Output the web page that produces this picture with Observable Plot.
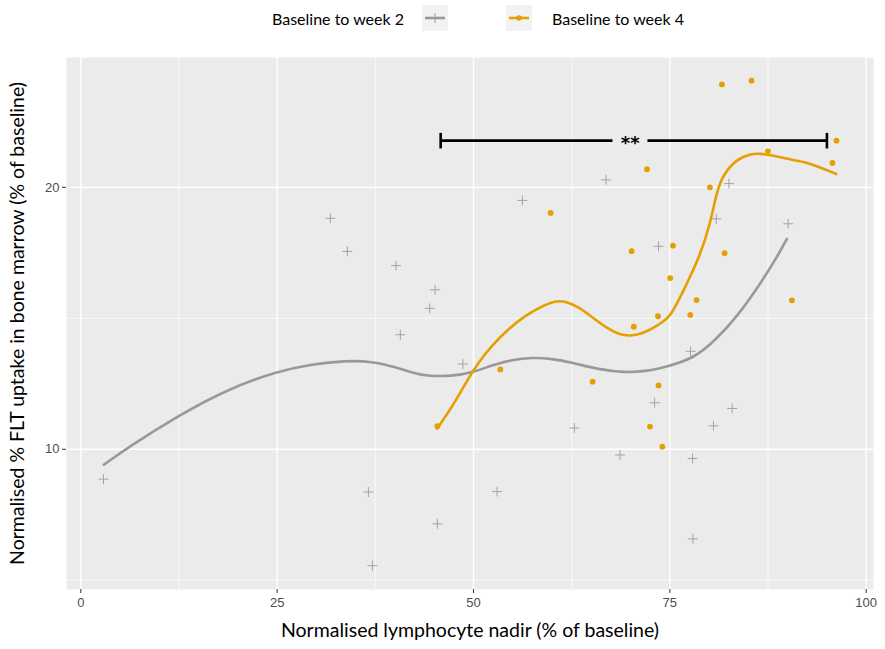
<!DOCTYPE html>
<html>
<head>
<meta charset="utf-8">
<script src="https://cdn.jsdelivr.net/npm/d3@7"></script>
<script src="https://cdn.jsdelivr.net/npm/@observablehq/plot@0.6"></script>
<style>
  html, body { margin: 0; padding: 0; background: #ffffff; }
  #wrap { width: 885px; }
  #legend { position: relative; width: 885px; height: 40px; font-family: Lato, "Open Sans", sans-serif; font-size: 16px; color: #000; }
  #legend .lab { position: absolute; top: 8px; line-height: 22px; white-space: nowrap; }
  #legend svg { position: absolute; top: 5px; }
</style>
</head>
<body>
<div id="wrap">
  <div id="legend"></div>
  <div id="chart"></div>
</div>
<script>
// ---- Data ----
const seriesNames = ["Baseline to week 2", "Baseline to week 4"];
const seriesColors = ["#A3A3A3", "#E69F00"];
const curveColors = ["#999999", "#E69F00"];

const week2X = [2.89, 31.78, 33.94, 40.14, 40.69, 45.11, 44.42, 48.65, 36.62, 45.40, 37.13, 62.84, 68.65, 73.06, 77.64, 77.89, 80.56, 82.94, 77.94, 53.00, 56.22, 66.87, 82.52, 80.91, 73.56, 90.07];
const week2Y = [9.24, 18.43, 16.88, 16.26, 13.54, 15.25, 14.52, 12.53, 8.93, 8.21, 7.35, 10.58, 9.85, 11.31, 12.96, 9.76, 10.64, 11.14, 7.89, 8.94, 19.32, 20.40, 20.20, 18.40, 17.11, 18.16];

const week4X = [81.63, 85.40, 96.22, 87.49, 95.71, 72.09, 80.11, 59.82, 70.13, 75.40, 81.97, 75.05, 78.40, 90.54, 73.49, 77.60, 70.41, 53.42, 65.17, 73.56, 72.47, 74.04, 45.40];
const week4Y = [26.26, 26.52, 22.63, 22.00, 21.33, 20.98, 20.00, 18.69, 16.89, 17.14, 16.80, 15.73, 14.84, 14.83, 14.22, 14.27, 13.83, 12.35, 11.96, 11.84, 10.62, 10.07, 10.63];

// smoothed (loess) curves
const smooth2X = [2.93, 6.11, 12.47, 18.84, 25.0, 29.45, 33.69, 37.09, 40.05, 42.18, 43.87, 47.27, 49.82, 52.36, 54.91, 57.45, 60.0, 62.54, 65.93, 69.33, 71.87, 74.42, 78.02, 80.78, 83.54, 86.51, 88.63, 89.91];
const smooth2Y = [9.60, 10.06, 10.94, 11.74, 12.29, 12.53, 12.64, 12.62, 12.43, 12.25, 12.14, 12.13, 12.25, 12.49, 12.68, 12.75, 12.71, 12.58, 12.35, 12.25, 12.29, 12.43, 12.71, 13.34, 14.19, 15.49, 16.62, 17.45];

const smooth4X = [45.36, 46.84, 48.11, 49.38, 50.66, 52.36, 54.47, 56.60, 58.72, 60.42, 61.69, 63.38, 65.09, 66.78, 68.47, 69.96, 71.45, 73.14, 74.0, 75.05, 76.75, 78.87, 80.14, 81.0, 81.84, 83.54, 85.24, 86.51, 88.2, 89.91, 92.02, 94.14, 96.18];
const smooth4Y = [10.56, 11.04, 11.53, 12.07, 12.60, 13.16, 13.76, 14.25, 14.60, 14.81, 14.80, 14.57, 14.19, 13.82, 13.55, 13.49, 13.58, 13.82, 14.00, 14.19, 15.22, 16.70, 18.16, 19.83, 20.72, 21.56, 21.85, 21.88, 21.75, 21.56, 21.41, 21.09, 20.72];

// significance bracket
const bracketX = [45.82, 95.0];
const bracketGap = [67.76, 72.21];
const bracketY = 22.63;
const bracketCapY = [22.14, 23.07];
const bracketLabel = "**";
const bracketLabelX = 69.96;

// axes
const xTicks = [0, 25, 50, 75, 100];
const xMinor = [12.5, 37.5, 62.5, 87.5];
const yTicks = [10, 20];
const yMinor = [7.071, 14.142];
const xDomain = [-1.82, 100.93];
const yDomain = [6.90, 28.2];
const xTitle = "Normalised lymphocyte nadir (% of baseline)";
const yTitle = "Normalised % FLT uptake in bone marrow (% of baseline)";

// ---- tables ----
const zip = (xs, ys) => xs.map((x, i) => ({x, y: ys[i]}));
const pts2 = zip(week2X, week2Y);
const pts4 = zip(week4X, week4Y);
const sm2 = zip(smooth2X, smooth2Y);
const sm4 = zip(smooth4X, smooth4Y);
const bracketSegs = [
  {x1: bracketX[0], x2: bracketGap[0], y: bracketY},
  {x1: bracketGap[1], x2: bracketX[1], y: bracketY}
];
const bracketCaps = bracketX.map(x => ({x, y1: bracketCapY[0], y2: bracketCapY[1]}));

const titleFont = "Lato, 'Open Sans', sans-serif";
const tickFont = "'Liberation Sans', Arial, sans-serif";

const chart = Plot.plot({
  width: 885,
  height: 609,
  marginTop: 17,
  marginBottom: 60,
  marginLeft: 66,
  marginRight: 12,
  style: {background: "#ffffff", overflow: "visible"},
  x: {domain: xDomain, ticks: xTicks},
  y: {type: "log", domain: yDomain, ticks: yTicks},
  marks: [
    Plot.frame({fill: "#EBEBEB", stroke: null}),
    Plot.gridX(xMinor, {stroke: "#ffffff", strokeOpacity: 1, strokeWidth: 0.7}),
    Plot.gridY(yMinor, {stroke: "#ffffff", strokeOpacity: 1, strokeWidth: 0.7}),
    Plot.gridX(xTicks, {stroke: "#ffffff", strokeOpacity: 1, strokeWidth: 1.4}),
    Plot.gridY(yTicks, {stroke: "#ffffff", strokeOpacity: 1, strokeWidth: 1.4}),
    Plot.axisX({ticks: xTicks, tickSize: 4, tickPadding: 4, stroke: "#333333", fill: "#4D4D4D", fontSize: 13, fontFamily: tickFont, label: null}),
    Plot.axisY({ticks: yTicks, tickSize: 4, tickPadding: 3, stroke: "#333333", fill: "#4D4D4D", fontSize: 13, fontFamily: tickFont, label: null, tickFormat: d3.format("d")}),
    Plot.dot(pts2, {x: "x", y: "y", symbol: "plus", r: 3.3, stroke: seriesColors[0], strokeWidth: 1}),
    Plot.dot(pts4, {x: "x", y: "y", r: 2.9, fill: seriesColors[1], stroke: null}),
    Plot.line(sm2, {x: "x", y: "y", stroke: curveColors[0], strokeWidth: 2.6, curve: "basis"}),
    Plot.line(sm4, {x: "x", y: "y", stroke: curveColors[1], strokeWidth: 2.6, curve: "basis"}),
    Plot.ruleY(bracketSegs, {x1: "x1", x2: "x2", y: "y", stroke: "#000000", strokeWidth: 2.6}),
    Plot.ruleX(bracketCaps, {x: "x", y1: "y1", y2: "y2", stroke: "#000000", strokeWidth: 2.6}),
    Plot.text([bracketLabel], {x: bracketLabelX, y: bracketY, text: d => d, fontSize: 18, fontWeight: "bold", fontFamily: "'DejaVu Sans', sans-serif", fill: "#000", dy: 3}),
    Plot.text([xTitle], {frameAnchor: "bottom", dy: 47, text: d => d, fontSize: 19.5, fontFamily: titleFont, fill: "#000", textAnchor: "middle"}),
    Plot.text([yTitle], {frameAnchor: "left", dx: -49, rotate: -90, text: d => d, fontSize: 19.5, fontFamily: titleFont, fill: "#000", textAnchor: "middle"})
  ]
});
document.getElementById("chart").appendChild(chart);

// ---- legend (HTML above the SVG) ----
const legend = document.getElementById("legend");
const ns = "http://www.w3.org/2000/svg";
function keySvg(left, kind, color) {
  const s = document.createElementNS(ns, "svg");
  s.setAttribute("width", 26); s.setAttribute("height", 26);
  s.style.left = left + "px";
  const bg = document.createElementNS(ns, "rect");
  bg.setAttribute("width", 26); bg.setAttribute("height", 26); bg.setAttribute("fill", "#F2F2F2");
  s.appendChild(bg);
  const ln = document.createElementNS(ns, "line");
  ln.setAttribute("x1", 3); ln.setAttribute("x2", 23); ln.setAttribute("y1", 13); ln.setAttribute("y2", 13);
  ln.setAttribute("stroke", color); ln.setAttribute("stroke-width", 2.6);
  s.appendChild(ln);
  if (kind === "plus") {
    const p = document.createElementNS(ns, "path");
    p.setAttribute("d", "M8,13H18M13,8V18");
    p.setAttribute("stroke", color); p.setAttribute("stroke-width", 1);
    s.appendChild(p);
  } else {
    const c = document.createElementNS(ns, "circle");
    c.setAttribute("cx", 13); c.setAttribute("cy", 13); c.setAttribute("r", 2.8);
    c.setAttribute("fill", color);
    s.appendChild(c);
  }
  legend.appendChild(s);
}
function label(left, text) {
  const d = document.createElement("div");
  d.className = "lab"; d.style.left = left + "px"; d.textContent = text;
  legend.appendChild(d);
}
label(272, seriesNames[0]);
keySvg(422, "plus", curveColors[0]);
keySvg(506, "dot", seriesColors[1]);
label(552, seriesNames[1]);
</script>
</body>
</html>
